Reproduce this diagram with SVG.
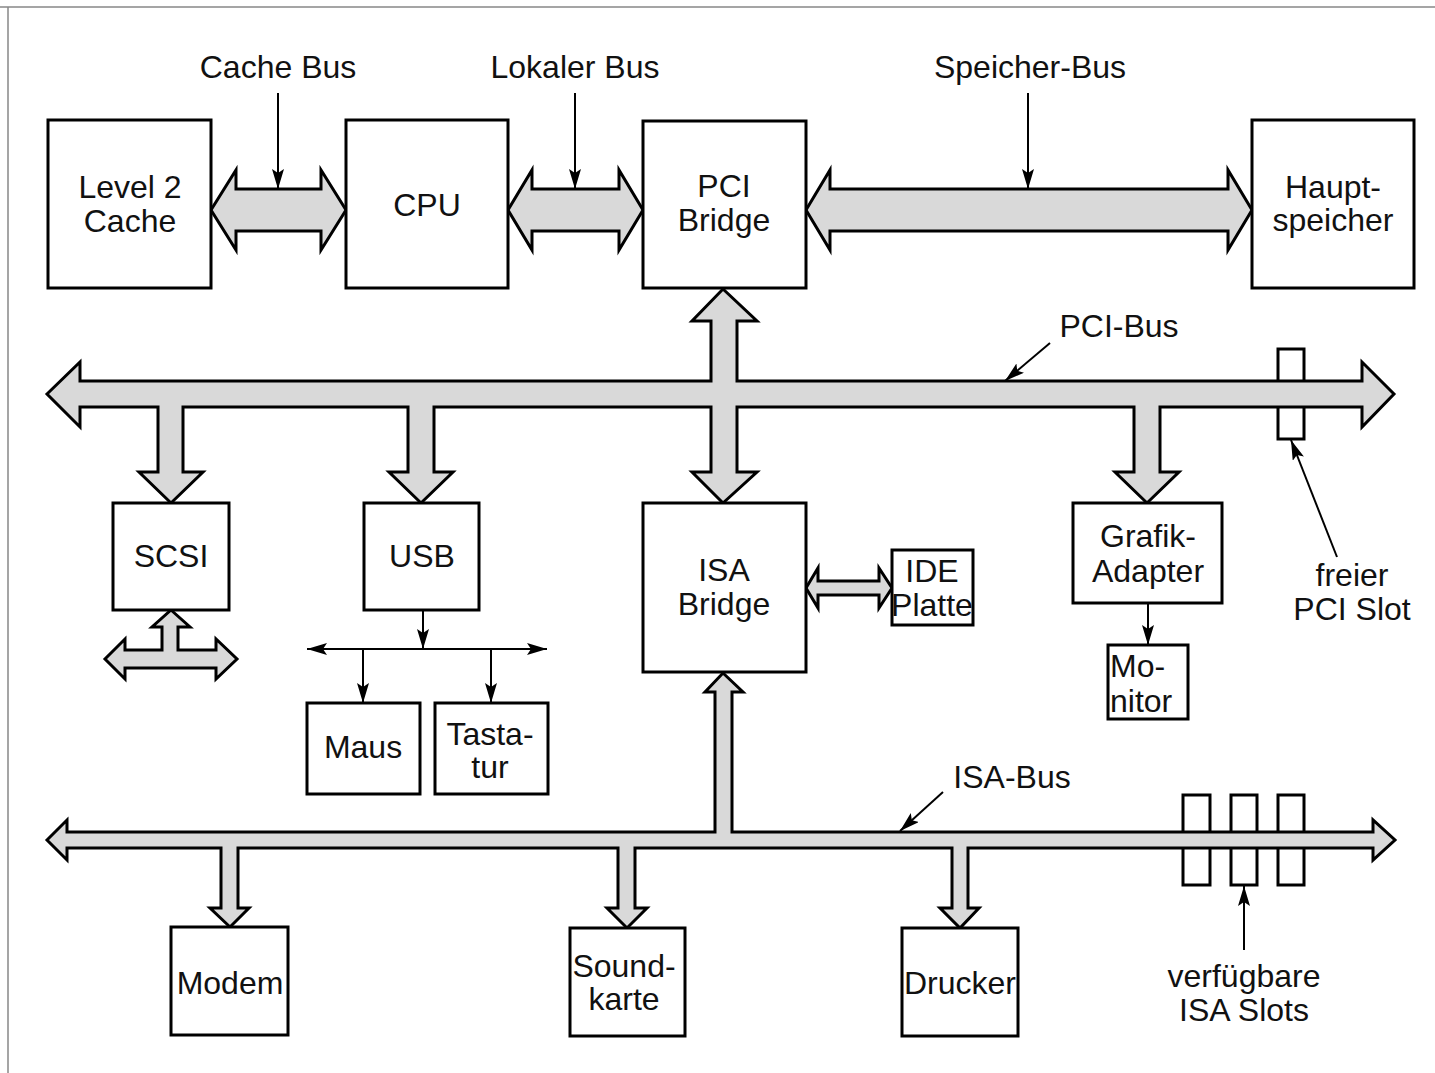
<svg xmlns="http://www.w3.org/2000/svg" width="1435" height="1073" viewBox="0 0 1435 1073">
<defs>
<style>
.box{fill:#fff;stroke:#000;stroke-width:3}
.bus{fill:#d9d9d9;stroke:#000;stroke-width:3;stroke-linejoin:miter}
.thin{stroke:#000;stroke-width:2;fill:none}
text{font-family:"Liberation Sans",Arial,sans-serif;font-size:32px;fill:#111;text-anchor:middle}
</style>
<marker id="ah" viewBox="0 0 20 12" refX="20" refY="6" markerWidth="20" markerHeight="12" markerUnits="userSpaceOnUse" orient="auto-start-reverse">
<path d="M0,0 L20,6 L0,12 L4,6 Z" fill="#000"/>
</marker>
</defs>
<rect width="1435" height="1073" fill="#fff"/>
<path d="M0,7 H1435 M8,7 V1073" stroke="#888" stroke-width="1.5" fill="none"/>

<g id="slots">
<rect class="box" x="1278" y="349" width="26" height="90"/>
<rect class="box" x="1183" y="795" width="27" height="90"/>
<rect class="box" x="1231" y="795" width="26" height="90"/>
<rect class="box" x="1278" y="795" width="26" height="90"/>
</g>

<g id="connectors">
<path class="bus" d="M211,210 L236,170 L236,189 L321,189 L321,170 L346,210 L321,250 L321,231 L236,231 L236,250 Z"/>
<path class="bus" d="M508,210 L532,170 L532,189 L619,189 L619,170 L643,210 L619,250 L619,231 L532,231 L532,250 Z"/>
<path class="bus" d="M806,210 L830,170 L830,189 L1228,189 L1228,170 L1252,210 L1228,250 L1228,231 L830,231 L830,250 Z"/>
<path class="bus" d="M47,394 L80,362 L80,381 L711,381 L711,321 L692,321 L723,289 L757,321 L737,321 L737,381 L1362,381 L1362,362 L1394,394 L1362,427 L1362,407 L1160,407 L1160,472 L1179,472 L1147,503 L1115,472 L1134,472 L1134,407 L737,407 L737,472 L757,472 L723,503 L692,472 L711,472 L711,407 L434,407 L434,472 L453,472 L421,503 L389,472 L408,472 L408,407 L183,407 L183,472 L203,472 L171,503 L139,472 L158,472 L158,407 L80,407 L80,427 Z"/>
<path class="bus" d="M171,610 L190,627 L178,627 L178,650 L216,650 L216,639 L237,659 L216,679 L216,668 L125,668 L125,679 L105,659 L125,639 L125,650 L162,650 L162,627 L152,627 Z"/>
<path class="bus" d="M806,588 L818,568 L818,581 L879,581 L879,568 L892,588 L879,608 L879,595 L818,595 L818,608 Z"/>
<path class="bus" d="M47,840 L67,820 L67,832 L715,832 L715,692 L705,692 L723,673 L743,692 L732,692 L732,832 L1373,832 L1373,820 L1395,840 L1373,860 L1373,848 L968,848 L968,908 L979,908 L960,928 L940,908 L952,908 L952,848 L635,848 L635,908 L647,908 L627,928 L607,908 L618,908 L618,848 L238,848 L238,908 L249,908 L230,927 L210,908 L221,908 L221,848 L67,848 L67,860 Z"/>
<line class="thin" x1="278" y1="93" x2="278" y2="189" marker-end="url(#ah)"/>
<line class="thin" x1="575" y1="93" x2="575" y2="189" marker-end="url(#ah)"/>
<line class="thin" x1="1028" y1="93" x2="1028" y2="189" marker-end="url(#ah)"/>
<line class="thin" x1="1050" y1="343" x2="1005" y2="381" marker-end="url(#ah)"/>
<line class="thin" x1="1337" y1="557" x2="1291" y2="440" marker-end="url(#ah)"/>
<line class="thin" x1="943" y1="792" x2="900" y2="831" marker-end="url(#ah)"/>
<line class="thin" x1="1244" y1="950" x2="1244" y2="886" marker-end="url(#ah)"/>
<line class="thin" x1="423" y1="610" x2="423" y2="649" marker-end="url(#ah)"/>
<line class="thin" x1="307" y1="649" x2="547" y2="649" marker-start="url(#ah)" marker-end="url(#ah)"/>
<line class="thin" x1="363" y1="649" x2="363" y2="703" marker-end="url(#ah)"/>
<line class="thin" x1="491" y1="649" x2="491" y2="703" marker-end="url(#ah)"/>
<line class="thin" x1="1148" y1="603" x2="1148" y2="645" marker-end="url(#ah)"/>
</g>

<g id="labels">
<text x="278" y="78">Cache Bus</text>
<text x="575" y="78">Lokaler Bus</text>
<text x="1030" y="78">Speicher-Bus</text>
<text x="1119" y="337">PCI-Bus</text>
<text x="1012" y="788">ISA-Bus</text>
<text x="1352" y="586">freier</text>
<text x="1352" y="620">PCI Slot</text>
<text x="1244" y="987">verfügbare</text>
<text x="1244" y="1021">ISA Slots</text>
</g>

<g id="level2cache"><rect class="box" x="48" y="120" width="163" height="168"/><text x="130" y="198">Level 2</text><text x="130" y="232">Cache</text></g>
<g id="cpu"><rect class="box" x="346" y="120" width="162" height="168"/><text x="427" y="216">CPU</text></g>
<g id="pcibridge"><rect class="box" x="643" y="121" width="163" height="167"/><text x="724" y="197">PCI</text><text x="724" y="231">Bridge</text></g>
<g id="hauptspeicher"><rect class="box" x="1252" y="120" width="162" height="168"/><text x="1333" y="198">Haupt-</text><text x="1333" y="231">speicher</text></g>
<g id="scsi"><rect class="box" x="113" y="503" width="116" height="107"/><text x="171" y="567">SCSI</text></g>
<g id="usb"><rect class="box" x="364" y="503" width="115" height="107"/><text x="422" y="567">USB</text></g>
<g id="isabridge"><rect class="box" x="643" y="503" width="163" height="169"/><text x="724" y="581">ISA</text><text x="724" y="615">Bridge</text></g>
<g id="ideplatte"><rect class="box" x="892" y="550" width="81" height="75"/><text x="932" y="582">IDE</text><text x="932" y="616">Platte</text></g>
<g id="grafikadapter"><rect class="box" x="1073" y="503" width="149" height="100"/><text x="1148" y="547">Grafik-</text><text x="1148" y="582">Adapter</text></g>
<g id="monitor"><rect class="box" x="1108" y="645" width="80" height="74"/><text x="1110" y="677" style="text-anchor:start">Mo-</text><text x="1110" y="712" style="text-anchor:start">nitor</text></g>
<g id="maus"><rect class="box" x="307" y="703" width="113" height="91"/><text x="363" y="758">Maus</text></g>
<g id="tastatur"><rect class="box" x="435" y="703" width="113" height="91"/><text x="490" y="745">Tasta-</text><text x="490" y="778">tur</text></g>
<g id="modem"><rect class="box" x="171" y="927" width="117" height="108"/><text x="230" y="994">Modem</text></g>
<g id="soundkarte"><rect class="box" x="570" y="928" width="115" height="108"/><text x="624" y="977">Sound-</text><text x="624" y="1010">karte</text></g>
<g id="drucker"><rect class="box" x="902" y="928" width="116" height="108"/><text x="960" y="994">Drucker</text></g>
</svg>
